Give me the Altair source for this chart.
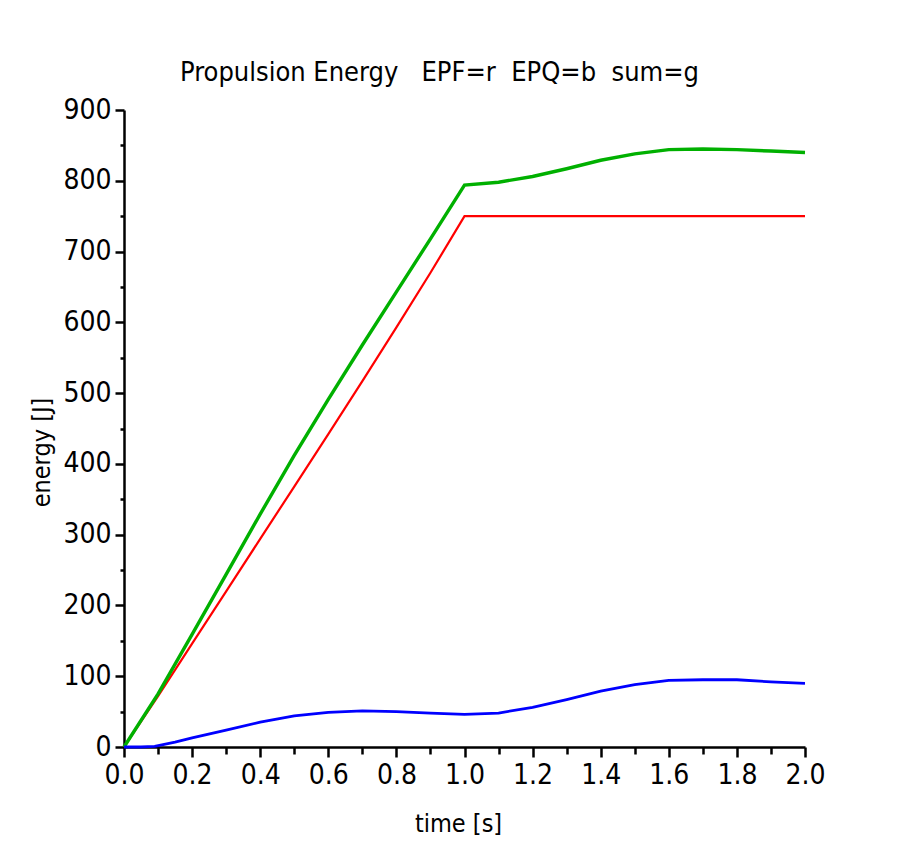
import altair as alt
import pandas as pd

# time grid (s)
t_red = [0.0, 0.1, 0.2, 0.3, 0.4, 0.5, 0.6, 0.7, 0.8, 0.9, 1.0,
         1.1, 1.2, 1.3, 1.4, 1.5, 1.6, 1.7, 1.8, 1.9, 2.0]
epf = [0, 72, 146, 220, 294, 368, 442, 517, 593, 670, 750,
       750, 750, 750, 750, 750, 750, 750, 750, 750, 750]

t_blue = [0.0, 0.05, 0.09, 0.15, 0.2, 0.3, 0.4, 0.5, 0.6, 0.7, 0.8, 0.9, 1.0,
          1.1, 1.2, 1.3, 1.4, 1.5, 1.6, 1.7, 1.8, 1.9, 2.0]
epq = [0, 0, 1, 7, 13, 24, 35, 44, 49, 51, 50, 48, 46,
       48, 56, 67, 79, 88, 94, 95, 95, 92, 90]

t_green = [0.0, 0.1, 0.2, 0.3, 0.4, 0.5, 0.6, 0.7, 0.8, 0.9, 1.0,
           1.1, 1.2, 1.3, 1.4, 1.5, 1.6, 1.7, 1.8, 1.9, 2.0]
esum = [0, 75, 159, 244, 329, 412, 491, 568, 643, 718, 794,
        798, 806, 817, 829, 838, 844, 845, 844, 842, 840]

series_names = ["EPF", "EPQ", "sum"]
series_colors = ["#ff0000", "#0000ff", "#00b000"]
series_widths = [2.2, 3.4, 2.6]

x_ticks = [round(i * 0.1, 1) for i in range(21)]
y_ticks = list(range(0, 901, 50))

df = pd.concat([
    pd.DataFrame({"t": t_red, "E": epf, "s": "EPF", "o": range(len(t_red))}),
    pd.DataFrame({"t": t_green, "E": esum, "s": "sum", "o": range(len(t_green))}),
    pd.DataFrame({"t": t_blue, "E": epq, "s": "EPQ", "o": range(len(t_blue))}),
])

FONT = "Liberation Sans Narrow, DejaVu Sans Condensed, Arial Narrow, sans-serif"

x_axis = alt.Axis(
    values=x_ticks, format=".1f",
    labelExpr="round(datum.value*10) % 2 == 0 ? datum.label : ''",
    tickSize={"condition": {"test": "round(datum.value*10) % 2 != 0", "value": 7}, "value": 10},
    grid=False, title="time [s]", titleX=334, titleY=76, titleBaseline="middle",
    titleAlign="center", labelPadding=4, labelOverlap=False, labelFlush=False,
)
y_axis = alt.Axis(
    values=y_ticks,
    labelExpr="datum.value % 100 == 0 ? datum.label : ''",
    tickSize={"condition": {"test": "datum.value % 100 != 0", "value": 4}, "value": 9},
    grid=False, title="energy [J]", titleX=-83, titleY=342, titleAngle=270,
    titleBaseline="middle", titleAlign="center", labelPadding=4,
    labelOverlap=False, labelFlush=False,
)

lines = alt.Chart(df).mark_line(interpolate="linear").encode(
    x=alt.X("t:Q", scale=alt.Scale(domain=[0, 2], nice=False), axis=x_axis),
    y=alt.Y("E:Q", scale=alt.Scale(domain=[0, 900], nice=False), axis=y_axis),
    color=alt.Color("s:N", scale=alt.Scale(domain=series_names, range=series_colors), legend=None),
    strokeWidth=alt.StrokeWidth("s:N", scale=alt.Scale(domain=series_names, range=series_widths), legend=None),
    detail="s:N",
    order="o:Q",
)

chart = lines.properties(
    width=681, height=637,
    background="white",
    view=alt.ViewBackground(strokeWidth=0, strokeOpacity=0, fill="white"),
    autosize=alt.AutoSizeParams(type="none"),
    padding={"left": 116, "top": 102, "right": 85, "bottom": 97},
    title=alt.TitleParams(
        "Propulsion Energy\u00a0\u00a0 EPF=r\u00a0 EPQ=b\u00a0 sum=g",
        font=FONT, fontSize=27, fontWeight="normal", color="black",
        anchor="middle", dx=-25, offset=9,
    ),
).configure_view(stroke="transparent", strokeOpacity=0, strokeWidth=0).configure_axis(
    labelFont=FONT, labelFontSize=28, labelColor="black",
    titleFont=FONT, titleFontSize=25, titleFontWeight="normal", titleColor="black",
    domainColor="black", domainWidth=2.5, tickColor="black", tickWidth=2.5,
)

chart.save("out.html", embed_options={"renderer": "svg", "actions": False})
